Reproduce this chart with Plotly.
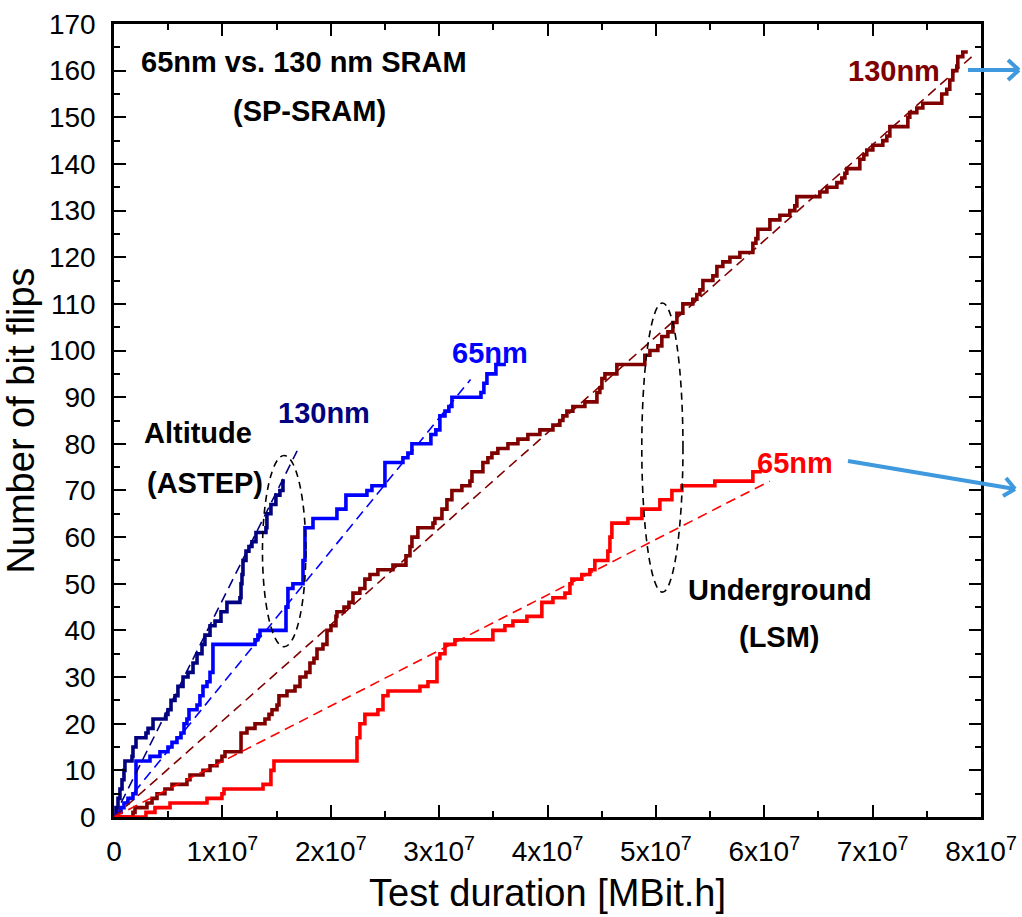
import plotly.graph_objects as go

# Test duration values are given in units of 1e7 MBit.h
SCALE = 1e7

# --- Altitude (ASTEP), 130 nm SP-SRAM: cumulative bit flips ---
astep_130_t = [0, 0.018, 0.037, 0.055, 0.074, 0.092, 0.101, 0.166, 0.175, 0.203,
               0.295, 0.314, 0.360, 0.480, 0.498, 0.526, 0.563, 0.590, 0.637, 0.683,
               0.729, 0.766, 0.812, 0.839, 0.886, 0.932, 0.987, 1.042, 1.162, 1.172,
               1.181, 1.190, 1.218, 1.245, 1.273, 1.310, 1.402, 1.411, 1.448, 1.494,
               1.531, 1.559, 1.577]
astep_130_n = [0, 2, 4, 6, 8, 10, 12, 13, 15, 17,
               18, 19, 21, 22, 23, 25, 26, 28, 30, 31,
               33, 35, 37, 39, 41, 42, 44, 46, 47, 50,
               52, 55, 57, 58, 59, 61, 62, 65, 67, 69,
               70, 72, 72]

# --- Altitude (ASTEP), 65 nm SP-SRAM ---
astep_65_t = [0, 0.037, 0.065, 0.092, 0.129, 0.175, 0.203, 0.332, 0.424, 0.498,
              0.535, 0.581, 0.618, 0.646, 0.673, 0.692, 0.766, 0.793, 0.821, 0.858,
              0.886, 0.913, 1.301, 1.328, 1.347, 1.587, 1.605, 1.651, 1.744, 1.762,
              1.836, 2.057, 2.140, 2.334, 2.380, 2.500, 2.666, 2.712, 2.749, 2.924,
              2.970, 3.007, 3.054, 3.090, 3.118, 3.386, 3.413, 3.441, 3.524, 3.616]
astep_65_n = [0, 1, 2, 3, 4, 5, 12, 13, 14, 15,
              16, 17, 18, 20, 21, 23, 24, 26, 28, 29,
              31, 37, 38, 39, 40, 45, 49, 50, 55, 62,
              64, 66, 69, 70, 71, 76, 77, 78, 80, 82,
              83, 86, 87, 88, 90, 91, 93, 95, 97, 97]

# --- Underground (LSM), 130 nm SP-SRAM ---
lsm_130_t = [0, 0.175, 0.194, 0.304, 0.351, 0.397, 0.470, 0.535, 0.673, 0.701,
             0.821, 0.886, 0.950, 0.996, 1.024, 1.172, 1.227, 1.301, 1.393, 1.430,
             1.458, 1.504, 1.522, 1.596, 1.670, 1.716, 1.771, 1.808, 1.845, 1.873,
             1.928, 1.965, 2.002, 2.048, 2.057, 2.122, 2.168, 2.205, 2.269, 2.315,
             2.362, 2.435, 2.574, 2.694, 2.731, 2.749, 2.804, 2.943, 2.961, 3.026,
             3.072, 3.118, 3.210, 3.284, 3.303, 3.404, 3.450, 3.487, 3.542, 3.635,
             3.727, 3.819, 3.930, 4.050, 4.114, 4.142, 4.179, 4.234, 4.345, 4.456,
             4.483, 4.502, 4.530, 4.640, 4.898, 4.945, 5.018, 5.055, 5.111, 5.157,
             5.194, 5.249, 5.341, 5.378, 5.406, 5.434, 5.526, 5.563, 5.618, 5.683,
             5.775, 5.895, 5.923, 5.941, 6.052, 6.144, 6.236, 6.282, 6.301, 6.513,
             6.578, 6.670, 6.716, 6.744, 6.762, 6.882, 6.919, 6.946, 7.002, 7.094,
             7.131, 7.159, 7.325, 7.343, 7.408, 7.463, 7.638, 7.684, 7.712, 7.740,
             7.777, 7.786, 7.832, 7.878]
lsm_130_n = [0, 1, 2, 3, 4, 5, 6, 7, 8, 9,
             10, 11, 12, 13, 14, 18, 19, 20, 21, 22,
             23, 24, 26, 27, 28, 30, 31, 33, 34, 36,
             37, 40, 41, 43, 44, 45, 46, 48, 49, 51,
             52, 53, 54, 56, 58, 60, 62, 63, 64, 66,
             68, 70, 71, 72, 74, 76, 77, 78, 79, 80,
             81, 82, 83, 84, 85, 86, 87, 88, 89, 91,
             92, 94, 95, 97, 99, 100, 101, 103, 104, 106,
             108, 110, 111, 112, 113, 115, 116, 118, 119, 120,
             121, 123, 124, 126, 128, 129, 130, 131, 133, 134,
             135, 136, 137, 138, 139, 141, 142, 143, 144, 145,
             146, 148, 150, 151, 152, 153, 155, 156, 158, 160,
             161, 163, 164, 164]

# --- Underground (LSM), 65 nm SP-SRAM ---
lsm_65_t = [0, 0.295, 0.378, 0.517, 0.858, 0.996, 1.015, 1.375, 1.448, 1.476,
            2.242, 2.269, 2.315, 2.435, 2.482, 2.528, 2.823, 2.897, 2.980, 3.007,
            3.054, 3.146, 3.496, 3.607, 3.681, 3.810, 3.948, 4.050, 4.161, 4.207,
            4.225, 4.317, 4.391, 4.437, 4.557, 4.576, 4.594, 4.742, 4.871, 5.037,
            5.148, 5.240, 5.544, 5.895, 5.978]
lsm_65_n = [0, 1, 2, 3, 4, 5, 6, 7, 10, 12,
            17, 20, 22, 23, 26, 27, 28, 29, 34, 35,
            37, 38, 40, 41, 42, 43, 46, 47, 48, 50,
            51, 52, 53, 55, 57, 60, 63, 64, 66, 68,
            70, 71, 72, 74, 74]

# Linear fits through the origin: end of fitted range (1e7 MBit.h) and value there
fit_names = ["ASTEP 130nm", "ASTEP 65nm", "LSM 130nm", "LSM 65nm"]
fit_end_t = [1.69, 3.29, 7.93, 6.05]
fit_end_n = [78.5, 93.8, 163.3, 72.0]

colors = ["#000080", "#0000FF", "#800000", "#FF0000"]

x_ticks = [0, 1, 2, 3, 4, 5, 6, 7, 8]
x_ticktext = ["0"] + [f"{k}x10<sup>7</sup>" for k in x_ticks[1:]]
y_ticks = list(range(0, 171, 10))

series = [
    ("Altitude 130nm", astep_130_t, astep_130_n),
    ("Altitude 65nm", astep_65_t, astep_65_n),
    ("Underground 130nm", lsm_130_t, lsm_130_n),
    ("Underground 65nm", lsm_65_t, lsm_65_n),
]
for name, t, n in series:
    if len(t) != len(n):
        raise ValueError(f"length mismatch in {name}: {len(t)} vs {len(n)}")

FONT = "Liberation Sans, Arial, sans-serif"
fig = go.Figure()

for (name, t, n), c in zip(series, colors):
    fig.add_trace(go.Scatter(
        x=[v * SCALE for v in t], y=n, name=name, mode="lines",
        line=dict(color=c, width=3.6, shape="hv"),
    ))

for name, te, ne, c in zip(fit_names, fit_end_t, fit_end_n, colors):
    fig.add_trace(go.Scatter(
        x=[0, te * SCALE], y=[0, ne], name=name + " fit", mode="lines",
        line=dict(color=c, width=1.6, dash="10px,6px"),
    ))

# dashed ellipses grouping the two 130nm/65nm pairs
ellipses = [(1.37, 1.77, 36.5, 77.5), (4.87, 5.25, 48.2, 110.2)]
for x0, x1, y0, y1 in ellipses:
    fig.add_shape(type="circle", xref="x", yref="y",
                  x0=x0 * SCALE, x1=x1 * SCALE, y0=y0, y1=y1,
                  line=dict(color="black", width=1.6, dash="7px,5px"))

# light blue arrows pointing out of the frame
ARROW = "#3F99DE"
arrow_lines = [
    (0.985, 0.942, 1.0438, 0.942),
    (1.0312, 0.9546, 1.0438, 0.942),
    (1.0312, 0.9294, 1.0438, 0.942),
    (0.8466, 0.4489, 1.0392, 0.4136),
    (1.0288, 0.4275, 1.0392, 0.4136),
    (1.0254, 0.4048, 1.0392, 0.4136),
]
for x0, y0, x1, y1 in arrow_lines:
    fig.add_shape(type="line", xref="paper", yref="paper",
                  x0=x0, y0=y0, x1=x1, y1=y1,
                  line=dict(color=ARROW, width=4))

labels = [
    ("65nm vs. 130 nm SRAM", 1.753, 161.8, "black"),
    ("(SP-SRAM)", 1.80, 151.3, "black"),
    ("Altitude", 0.775, 82.3, "black"),
    ("(ASTEP)", 0.84, 71.6, "black"),
    ("130nm", 1.937, 86.6, colors[0]),
    ("65nm", 3.469, 99.5, colors[1]),
    ("130nm", 7.20, 159.9, colors[2]),
    ("65nm", 6.282, 75.9, colors[3]),
    ("Underground", 6.144, 48.7, "black"),
    ("(LSM)", 6.144, 38.6, "black"),
]
for text, lx, ly, c in labels:
    fig.add_annotation(x=lx * SCALE, y=ly, xref="x", yref="y", text=f"<b>{text}</b>",
                       showarrow=False, font=dict(family=FONT, size=29, color=c),
                       xanchor="center", yanchor="middle")

axis_common = dict(
    showline=True, linecolor="black", linewidth=2.5, mirror="allticks",
    ticks="inside", ticklen=12, tickwidth=2, tickcolor="black",
    showgrid=False, zeroline=False, automargin=False,
    tickfont=dict(family=FONT, size=28, color="black"),
)

fig.update_xaxes(
    range=[0, 8 * SCALE], tickmode="array",
    tickvals=[k * SCALE for k in x_ticks], ticktext=x_ticktext,
    minor=dict(ticks="inside", ticklen=6, tickwidth=2, tickcolor="black",
               tickmode="array", tickvals=[(k + 0.5) * SCALE for k in x_ticks[:-1]]),
    title=dict(text="Test duration [MBit.h]", font=dict(family=FONT, size=38, color="black"),
               standoff=14),
    ticklabelstandoff=8,
    **axis_common,
)
fig.update_yaxes(
    range=[0, 170], tickmode="array", tickvals=y_ticks,
    ticktext=[str(v) for v in y_ticks],
    minor=dict(ticks="inside", ticklen=6, tickwidth=2, tickcolor="black",
               tickmode="array", tickvals=[v + 5 for v in y_ticks[:-1]]),
    title=dict(text="Number of bit flips", font=dict(family=FONT, size=38, color="black"),
               standoff=8),
    ticklabelstandoff=10,
    **axis_common,
)

fig.update_layout(
    width=1022, height=917, autosize=False,
    margin=dict(l=114, r=41, t=24, b=100),
    plot_bgcolor="white", paper_bgcolor="white",
    showlegend=False,
    font=dict(family=FONT, color="black"),
)

fig.write_html("out.html")
